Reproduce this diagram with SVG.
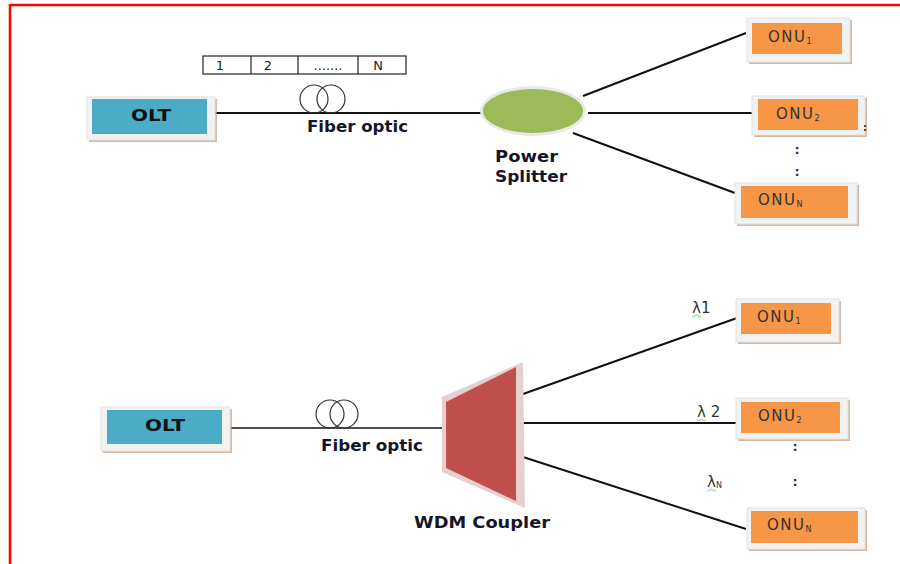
<svg xmlns="http://www.w3.org/2000/svg" width="900" height="564" viewBox="0 0 900 564">
<style>
.lbl{font-family:"DejaVu Sans","Liberation Sans",sans-serif;font-weight:bold;font-size:15px;fill:#15152a}
.olt{font-family:"DejaVu Sans","Liberation Sans",sans-serif;font-weight:bold;font-size:15px;fill:#111}
.onu{font-family:"DejaVu Sans","Liberation Sans",sans-serif;font-size:15px;fill:#333;letter-spacing:1.5px}
.sub{font-size:8px;letter-spacing:0}
.num{font-family:"DejaVu Sans","Liberation Sans",sans-serif;font-size:13px;fill:#222}
.lam{font-family:"DejaVu Sans","Liberation Sans",sans-serif;font-size:15px;fill:#333}
.dots{font-family:"DejaVu Sans",sans-serif;font-size:13px;font-weight:bold;fill:#333}
.conn line{stroke:#111;stroke-width:2}
.shadow{fill:#c9a283;opacity:0.75}
.frame{fill:#f2f2f2;stroke:#e2e2e2;stroke-width:1}
.teal{fill:#4bacc6}
.orange{fill:#f79646}
.coil{fill:none;stroke:#333;stroke-width:1.2}
.squig{fill:none;stroke:#5cb85c;stroke-width:0.8}
</style>
<rect width="900" height="564" fill="#ffffff"/>
<!-- border -->
<line x1="10" y1="5" x2="900" y2="5" stroke="#ff0000" stroke-width="2.5"/>
<line x1="10" y1="4" x2="10" y2="564" stroke="#ff0000" stroke-width="2.5"/>

<!-- connectors -->
<g id="connectors" class="conn">
  <line x1="215" y1="113" x2="482" y2="113"/>
  <line x1="583" y1="96" x2="746" y2="33"/>
  <line x1="588" y1="113" x2="752" y2="113"/>
  <line x1="573" y1="133" x2="735" y2="193"/>
  <line x1="230" y1="428" x2="446" y2="428" style="stroke-width:1.6"/>
  <line x1="523" y1="394" x2="737" y2="318"/>
  <line x1="523" y1="423" x2="737" y2="423"/>
  <line x1="523" y1="457" x2="746" y2="529"/>
</g>

<!-- frame sequence -->
<g id="frame-sequence">
  <rect x="203" y="56" width="203" height="18" fill="#fff" stroke="#222" stroke-width="1.2"/>
  <line x1="251" y1="56" x2="251" y2="74" stroke="#222" stroke-width="1.2"/>
  <line x1="298" y1="56" x2="298" y2="74" stroke="#222" stroke-width="1.2"/>
  <line x1="358" y1="56" x2="358" y2="74" stroke="#222" stroke-width="1.2"/>
  <text class="num" x="220" y="70" text-anchor="middle">1</text>
  <text class="num" x="268" y="70" text-anchor="middle">2</text>
  <text class="num" x="328" y="70" text-anchor="middle">.......</text>
  <text class="num" x="378" y="70" text-anchor="middle">N</text>
</g>

<!-- top OLT -->
<g id="olt-top">
  <rect class="shadow" x="89" y="99" width="128" height="43"/>
  <rect class="frame" x="87" y="97" width="128" height="43"/>
  <rect class="teal" x="92" y="99" width="115" height="35"/>
  <text class="olt" x="131" y="121" textLength="40" lengthAdjust="spacingAndGlyphs">OLT</text>
</g>

<!-- top fiber -->
<g id="fiber-top">
  <circle class="coil" cx="314" cy="99" r="14"/>
  <circle class="coil" cx="331" cy="99" r="14"/>
  <text class="lbl" x="307" y="132" textLength="101" lengthAdjust="spacingAndGlyphs">Fiber optic</text>
</g>

<!-- power splitter -->
<g id="power-splitter">
  <ellipse cx="533" cy="111" rx="53" ry="25" fill="#e8e8e8"/>
  <ellipse cx="533" cy="111" rx="50" ry="22" fill="#9bbb59"/>
  <text class="lbl" x="495" y="162" textLength="63" lengthAdjust="spacingAndGlyphs">Power</text>
  <text class="lbl" x="495" y="182" textLength="72" lengthAdjust="spacingAndGlyphs">Splitter</text>
</g>

<!-- top ONUs -->
<g id="onu1-top">
  <rect class="shadow" x="749" y="20" width="103" height="44"/>
  <rect class="frame" x="747" y="18" width="103" height="44"/>
  <rect class="orange" x="752" y="23" width="90" height="31"/>
  <text class="onu" x="768" y="42">ONU<tspan class="sub" dy="2">1</tspan></text>
</g>
<g id="onu2-top">
  <rect class="shadow" x="754" y="98" width="113" height="39"/>
  <rect class="frame" x="752" y="96" width="113" height="39"/>
  <rect class="orange" x="758" y="99" width="100" height="31"/>
  <text class="onu" x="776" y="119">ONU<tspan class="sub" dy="2">2</tspan></text>
  <text class="dots" x="863" y="131" style="font-size:10px">:</text>
</g>
<text class="dots" x="797" y="154" text-anchor="middle">:</text>
<text class="dots" x="797" y="176" text-anchor="middle">:</text>
<g id="onuN-top">
  <rect class="shadow" x="737" y="185" width="122" height="41"/>
  <rect class="frame" x="735" y="183" width="122" height="41"/>
  <rect class="orange" x="741" y="186" width="107" height="32"/>
  <text class="onu" x="758" y="205">ONU<tspan class="sub" dy="2">N</tspan></text>
</g>

<!-- bottom OLT -->
<g id="olt-bottom">
  <rect class="shadow" x="103" y="409" width="129" height="44"/>
  <rect class="frame" x="101" y="407" width="129" height="44"/>
  <rect class="teal" x="107" y="410" width="115" height="34"/>
  <text class="olt" x="145" y="431" textLength="40" lengthAdjust="spacingAndGlyphs">OLT</text>
</g>

<!-- bottom fiber -->
<g id="fiber-bottom">
  <circle class="coil" cx="330" cy="414" r="14"/>
  <circle class="coil" cx="344" cy="414" r="14"/>
  <text class="lbl" x="321" y="451" textLength="102" lengthAdjust="spacingAndGlyphs">Fiber optic</text>
</g>

<!-- WDM coupler -->
<g id="wdm-coupler">
  <polygon points="442,397 523,362 525,508 442,472" fill="#e6cfcf"/>
  <polygon points="446,402 516,367 516,501 446,468" fill="#c0504d"/>
  <text class="lbl" x="414" y="528" textLength="136" lengthAdjust="spacingAndGlyphs">WDM Coupler</text>
</g>

<!-- lambda labels -->
<g id="lambda-labels">
  <text class="lam" x="692" y="313">λ1</text>
  <path class="squig" d="M692,316 q1.5,2 3,0 t3,0 t3,0"/>
  <text class="lam" x="697" y="417">λ 2</text>
  <path class="squig" d="M697,420 q1.5,2 3,0 t3,0 t3,0"/>
  <text class="lam" x="707" y="487">λ<tspan class="sub" dy="1">N</tspan></text>
  <path class="squig" d="M707,490 q1.5,2 3,0 t3,0 t3,0"/>
</g>

<!-- bottom ONUs -->
<g id="onu1-bottom">
  <rect class="shadow" x="738" y="301" width="103" height="43"/>
  <rect class="frame" x="736" y="299" width="103" height="43"/>
  <rect class="orange" x="741" y="303" width="90" height="31"/>
  <text class="onu" x="757" y="322">ONU<tspan class="sub" dy="2">1</tspan></text>
</g>
<g id="onu2-bottom">
  <rect class="shadow" x="738" y="400" width="112" height="41"/>
  <rect class="frame" x="736" y="398" width="112" height="41"/>
  <rect class="orange" x="741" y="402" width="99" height="31"/>
  <text class="onu" x="758" y="421">ONU<tspan class="sub" dy="2">2</tspan></text>
</g>
<text class="dots" x="795" y="451" text-anchor="middle">:</text>
<text class="dots" x="795" y="486" text-anchor="middle">:</text>
<g id="onuN-bottom">
  <rect class="shadow" x="749" y="510" width="118" height="41"/>
  <rect class="frame" x="747" y="508" width="118" height="41"/>
  <rect class="orange" x="751" y="511" width="107" height="32"/>
  <text class="onu" x="767" y="530">ONU<tspan class="sub" dy="2">N</tspan></text>
</g>
</svg>
